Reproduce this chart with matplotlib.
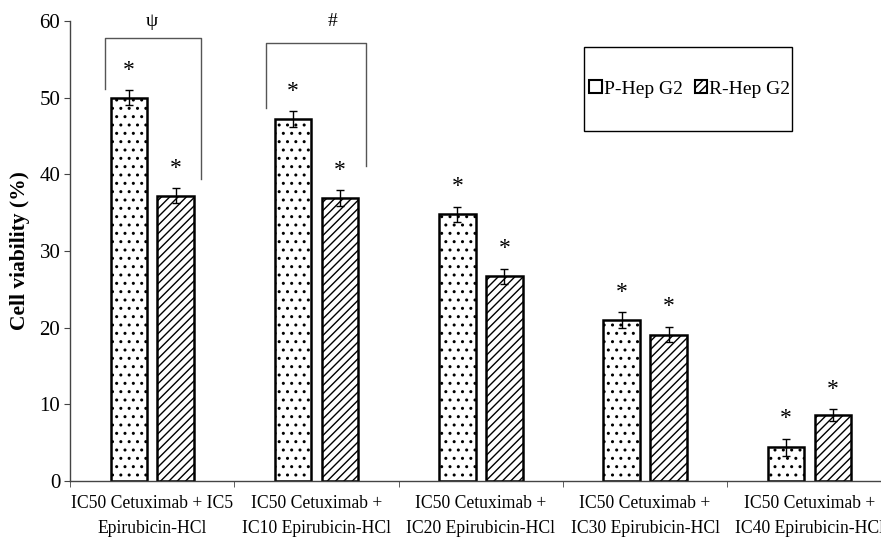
import numpy as np
import matplotlib
matplotlib.use('Agg')
import matplotlib.pyplot as plt
from matplotlib.patches import Patch, Rectangle

plt.rcParams['font.family'] = ['Liberation Serif', 'DejaVu Serif']
plt.rcParams['hatch.linewidth'] = 1.0

# data
labels = ['IC50 Cetuximab + IC5\nEpirubicin-HCl',
          'IC50 Cetuximab +\nIC10 Epirubicin-HCl',
          'IC50 Cetuximab +\nIC20 Epirubicin-HCl',
          'IC50 Cetuximab +\nIC30 Epirubicin-HCl',
          'IC50 Cetuximab +\nIC40 Epirubicin-HCl']
p_hep = [50.0, 47.2, 34.8, 21.0, 4.4]
r_hep = [37.2, 36.9, 26.7, 19.1, 8.6]
p_err = [1.0, 1.0, 1.0, 1.0, 1.1]
r_err = [1.0, 1.0, 1.0, 1.0, 0.8]

# significance brackets: symbol, x left, x right, top, left end, right end
br_sym = ['ψ', '#']
br_x0 = [-0.29, 0.69]
br_x1 = [0.30, 1.30]
br_top = [57.8, 57.1]
br_left = [51.1, 48.6]
br_right = [39.4, 41.1]
br_sym_x = [0.0, 1.10]

fig = plt.figure(figsize=(8.81, 5.42), dpi=100)
ax = fig.add_axes([0.0795, 0.1125, 0.9325, 0.8487])

x = np.arange(len(labels))
w = 0.223
ax.bar(x - 0.142, p_hep, w, color='white', edgecolor='black', linewidth=1.8,
       hatch='..', zorder=2)
ax.bar(x + 0.143, r_hep, w, color='white', edgecolor='black', linewidth=1.8,
       hatch='////', zorder=2)
ax.errorbar(x - 0.142, p_hep, yerr=p_err, fmt='none', ecolor='black',
            elinewidth=1, capsize=3, capthick=1, zorder=3)
ax.errorbar(x + 0.143, r_hep, yerr=r_err, fmt='none', ecolor='black',
            elinewidth=1, capsize=3, capthick=1, zorder=3)

# stars
for i in range(len(labels)):
    ax.text(x[i] - 0.142, p_hep[i] + p_err[i] + 2.6, '*', ha='center',
            va='center', fontsize=17)
    ax.text(x[i] + 0.143, r_hep[i] + r_err[i] + 2.6, '*', ha='center',
            va='center', fontsize=17)

# brackets
for i in range(len(br_sym)):
    ax.plot([br_x0[i], br_x0[i], br_x1[i], br_x1[i]],
            [br_left[i], br_top[i], br_top[i], br_right[i]],
            color='#555555', linewidth=1, clip_on=False)
    ax.text(br_sym_x[i], 60, br_sym[i], ha='center', va='center',
            fontsize=14, clip_on=False)

ax.set_xlim(-0.5, len(labels) - 0.5)
ax.set_ylim(0, 60)
ax.set_yticks(range(0, 61, 10))
ax.set_xticks(x)
ax.set_xticklabels(labels, fontsize=12.7, linespacing=1.65)
ax.set_xticks(np.arange(-0.5, len(labels), 1.0), minor=True)
ax.tick_params(axis='x', which='major', length=0, pad=10)
ax.tick_params(axis='x', which='minor', length=4, direction='out',
               color='#444444')
ax.tick_params(axis='y', length=4, direction='out', labelsize=15,
               color='#444444', pad=3)
for s in ['top', 'right']:
    ax.spines[s].set_visible(False)
for s in ['left', 'bottom']:
    ax.spines[s].set_color('#444444')
    ax.spines[s].set_linewidth(1)

ax.set_ylabel('Cell viability (%)', fontsize=15.5, fontweight='bold')
ax.yaxis.set_label_coords(-0.049, 0.5)

# legend box
fig.patches.append(Rectangle((0.6629, 0.7583), 0.2361, 0.155,
                             transform=fig.transFigure, facecolor='white',
                             edgecolor='black', linewidth=1, zorder=5))
handles = [Patch(facecolor='white', edgecolor='black', linewidth=1.5),
           Patch(facecolor='white', edgecolor='black', linewidth=1.5,
                 hatch='////')]
fig.legend(handles, ['P-Hep G2', 'R-Hep G2'], loc='center',
           bbox_to_anchor=(0.783, 0.8358), ncol=2, frameon=False,
           fontsize=14, handlelength=0.65, handleheight=0.65,
           handletextpad=0.1, columnspacing=0.6, borderpad=0)

fig.savefig('out.png', dpi=100)
